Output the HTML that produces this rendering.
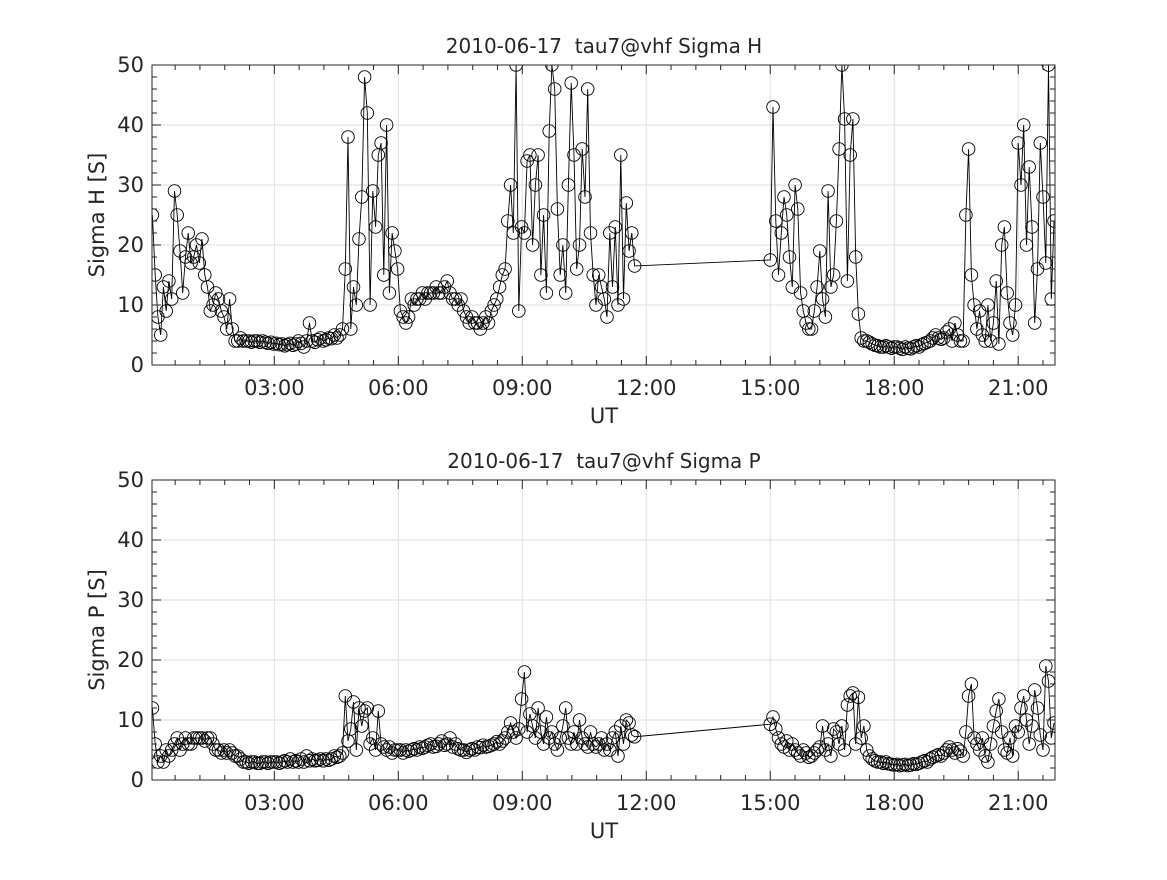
<!DOCTYPE html>
<html><head><meta charset="utf-8"><style>
body{margin:0;background:#fff}
svg text{font-family:"DejaVu Sans","Liberation Sans",sans-serif;fill:#262626;white-space:pre}
</style></head><body>
<svg id="fig" width="1167" height="875" xmlns="http://www.w3.org/2000/svg"></svg>
<script>
// data: 4-minute samples, two contiguous segments
const seg1Start = 0.05, seg2Start = 15.0, sampleStep = 1/15;
const sigmaH1 = [25,15,8,5,13,9,14,11,29,25,19,12,18,22,17,
18,20,17,21,15,13,9,10,12,11,9,8,6,11,6,
4,4,4.5,4,4,4,3.8,4,4,3.8,4,3.8,3.6,3.8,3.5,
3.6,3.4,3.5,3.2,3.4,3.6,3.3,3.5,4,3.6,3,4,7,4,3.8,
4.2,4.5,4,4.2,4.5,4.4,5,4.5,5,6,16,38,6,13,10,
21,28,48,42,10,29,23,35,37,15,40,12,22,19,16,
9,8,7,8,11,10,11,11,12,11,12,12,12,13,12,
12,13,14,12,11,11,10,11,9,8,7,8,7,7,6,
7,8,7,9,10,11,13,15,16,24,30,22,50,9,23,
22,34,35,20,30,35,15,25,12,39,50,46,26,15,20,
12,30,47,35,16,20,36,28,46,22,15,10,15,13,11,
8,22,13,23,10,35,11,27,19,22,16.5];
const sigmaH2 = [17.5,43,24,15,22,28,25,18,13,30,26,12,9,7,6,
6,9,13,19,11,8,29,13,15,24,36,50,41,14,35,
41,18,8.5,4.5,4,4,3.8,3.5,3.3,3.2,3,3,3.2,3,2.8,
3,3,2.8,2.6,3,2.8,2.7,3,3.2,3,3.4,3.6,3.8,4,4.5,
5,4.5,4.3,4.5,5.5,6,4,7,5,4,4,25,36,15,10,
6,9,5,4,10,4,7,14,3.5,20,23,12,7,5,10,
37,30,40,20,33,23,7,16,37,28,17,50,11,24];
const sigmaP1 = [12,6,3,4,3,5,4,5,6,7,5,6,7,6,6,
7,7,7,7,6.5,7,7,6,5,5,4.5,5,4.5,5,4.5,
4,4,3.5,3,3,2.8,3,3,2.8,2.8,3,3,2.8,3,3,
3,2.8,3,3.2,3,3.5,3,3.2,3,3.5,3,4,3.2,3.5,3.2,
3.3,3.5,3.2,3.5,3.3,3.5,4,3.8,4,4.5,14,6.5,8.5,13,5,
12,9,11.5,12,6,7,5,11.5,6,5.5,5,5.5,4.5,5,5,
5,4.5,5,4.8,5,5.2,5,5.5,5.3,5.5,5.8,6,5.5,5.6,6,
6.5,5.8,6,7,5.5,6,5.2,5,5,4.6,5,5.2,5,5.5,5.4,
5.8,5.5,5.6,5.8,6,6.4,6,6.5,7,8,9.5,8,7,8.5,13.5,
18,8,11,9,7,12,8,6,10.5,7,8,6,5,7,9,
12,7,6,8,6,10,7,6,5.5,8,6,5.5,6,7,5,
6,5,7,8,4,9,6,10,9.5,7.5,7.2];
const sigmaP2 = [9.3,10.5,8.5,7,6,5.5,6.5,5,6,5,4.5,4,5,4.5,3.8,
4,4.5,5,5.5,9,5,6,4,8.5,8,6,9,5,12.5,14,
14.5,6,13.8,7,9,5,4,3.5,3.2,3,3,2.8,3,2.7,2.6,
2.5,2.6,2.4,2.5,2.6,2.4,2.5,2.7,2.6,2.8,3,3.2,3,3.5,3.8,
4,4.2,4,4.5,5,5.5,5,4.5,5.2,4.8,4,8,14,16,7,
6,5,7,4,3,6,9,11.5,13.5,8,5,4.5,7,4,9,
8,12,14,10,6,9,15,12,7.5,5,19,16.5,7,9.5];
const xTickHours = [3,6,9,12,15,18,21];
const xTickLabels = ["03:00","06:00","09:00","12:00","15:00","18:00","21:00"];
const yTicks = [0,10,20,30,40,50];

const NS="http://www.w3.org/2000/svg";
const svg=document.getElementById('fig');
const X0=152,X1=1055,T0=0.04,T1=21.89;
const xs=t=>X0+(t-T0)/(T1-T0)*(X1-X0);
function mk(tag,attrs,parent){const e=document.createElementNS(NS,tag);for(const k in attrs)e.setAttribute(k,attrs[k]);(parent||svg).appendChild(e);return e;}

function panel(top,title,ylabel,v1,v2,key){
  const bot=top+300;
  const ys=v=>bot-v/50*300;
  const g=mk('g',{});
  
  
  xTickHours.forEach(h=>{const l=mk('line',{x1:xs(h),x2:xs(h),y1:top,y2:bot,stroke:'#dedede','stroke-width':1},g);
    });
  yTicks.forEach(v=>{const l=mk('line',{x1:X0,x2:X1,y1:ys(v),y2:ys(v),stroke:'#dedede','stroke-width':1},g);
    });
  const cp=mk('clipPath',{id:'clip'+key},g);mk('rect',{x:X0,y:top,width:X1-X0,height:300},cp);
  const pts=[];
  v1.forEach((v,i)=>pts.push([seg1Start+i*sampleStep,v]));
  v2.forEach((v,i)=>pts.push([seg2Start+i*sampleStep,v]));
  const dg=mk('g',{'clip-path':'url(#clip'+key+')'},g);
  
  
  const line=mk('polyline',{points:pts.map(p=>xs(p[0]).toFixed(1)+','+ys(p[1]).toFixed(1)).join(' '),fill:'none',stroke:'#000','stroke-width':0.9},dg);
  
  
  pts.forEach(p=>{const c=mk('circle',{cx:xs(p[0]).toFixed(1),cy:ys(p[1]).toFixed(1),r:6.3,fill:'none',stroke:'#000','stroke-width':0.9},dg);
    
    });
  const box=mk('rect',{x:X0,y:top,width:X1-X0,height:300,fill:'none',stroke:'#262626','stroke-width':1},g);
  
  let d='';
  for(let t=0.6;t<T1;t+=0.6){const x=xs(Math.round(t*10)/10);const maj=Math.abs(t/3-Math.round(t/3))<1e-6;const L=maj?9:5;
    if(x>X0+1&&x<X1-1)d+=`M${x},${bot}v${-L}M${x},${top}v${L}`;}
  for(let v=2;v<50;v+=2){const y=ys(v);const L=(v%10==0)?9:5;d+=`M${X0},${y}h${L}M${X1},${y}h${-L}`;}
  const tk=mk('path',{d:d,stroke:'#262626','stroke-width':1,fill:'none'},g);
  
  xTickHours.forEach((h,i)=>{const t=mk('text',{x:xs(h),y:bot+30,'font-size':21,'text-anchor':'middle'},g);t.textContent=xTickLabels[i];
    });
  yTicks.forEach(v=>{const t=mk('text',{x:X0-8,y:ys(v)+7,'font-size':21,'text-anchor':'end'},g);t.textContent=v;
    });
  const tt=mk('text',{x:604,y:top-12,'font-size':20,'text-anchor':'middle','xml:space':'preserve'},g);tt.textContent=title;
  
  const xl=mk('text',{x:604,y:bot+58,'font-size':21,'text-anchor':'middle'},g);xl.textContent='UT';
  
  const yl=mk('text',{x:0,y:0,'font-size':21,'text-anchor':'middle',transform:`translate(104,${top+150}) rotate(-90)`},g);yl.textContent=ylabel;
  
}
panel(65,'2010-06-17  tau7@vhf Sigma H','Sigma H [S]',sigmaH1,sigmaH2,'sigma-h');
panel(480,'2010-06-17  tau7@vhf Sigma P','Sigma P [S]',sigmaP1,sigmaP2,'sigma-p');
</script>
</body></html>
